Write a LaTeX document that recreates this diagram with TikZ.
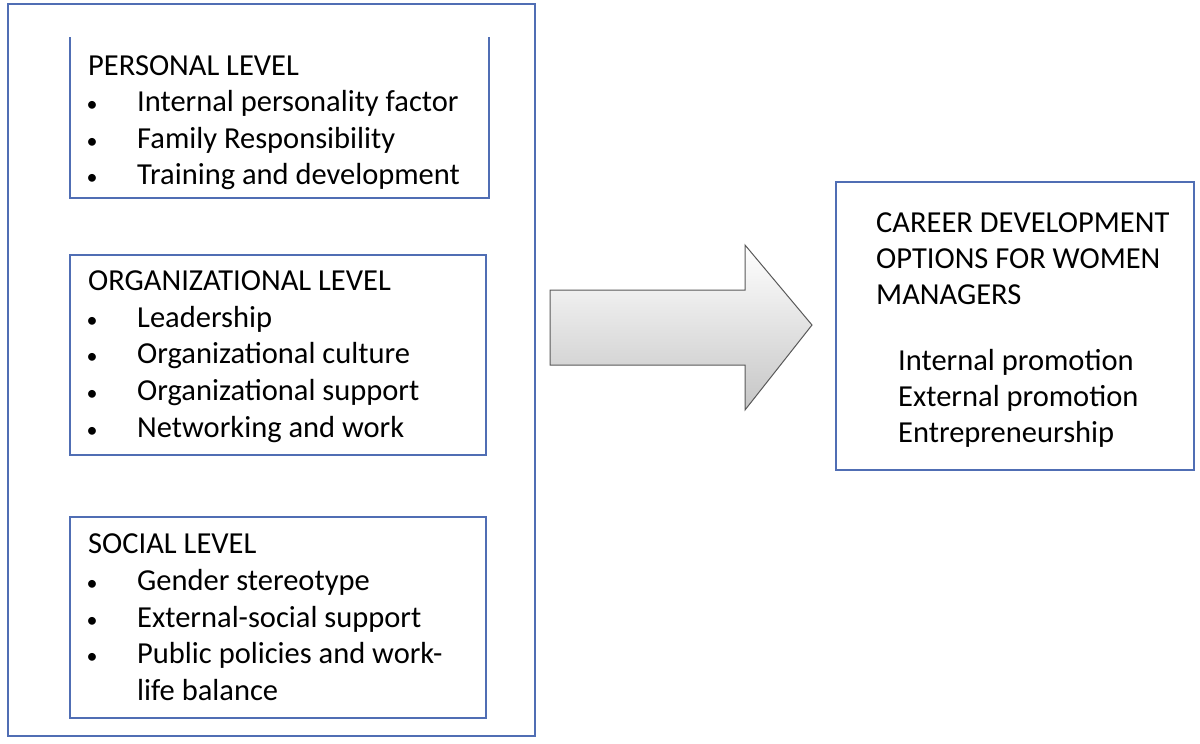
\documentclass[tikz,border=0pt]{standalone}
\usepackage{fontspec}
\setmainfont{Carlito}
\begin{document}
\begin{tikzpicture}[x=1pt,y=-1pt,
  txt/.style={anchor=base west, inner sep=0pt, font=\fontsize{30.5}{34}\selectfont},
  bul/.style={anchor=base, inner sep=0pt, font=\fontsize{22}{26}\selectfont}]
\useasboundingbox (0,0) rectangle (1200,744);
\definecolor{bc}{RGB}{80,110,180}
\draw[draw=bc,line width=1.2pt] (8,4) rectangle (535,736);
\draw[draw=bc,line width=1.2pt] (70,37) -- (70,198) -- (489,198) -- (489,37);
\draw[draw=bc,line width=1.2pt] (70,255) rectangle (486,455);
\draw[draw=bc,line width=1.2pt] (70,517) rectangle (486,718);
\draw[draw=bc,line width=1.2pt] (836,182) rectangle (1194,470);
\draw[gray!70!black, line width=1pt, top color=white, bottom color=gray!45]
  (550,290) -- (745,290) -- (745,245) -- (812,325) -- (745,410) -- (745,365) -- (550,365) -- cycle;
\node[txt] (pt) at (88,75) {PERSONAL LEVEL};
\foreach \y/\s [count=\i] in {111/Internal personality factor,148/Family Responsibility,184/Training and development}{
  \node[bul] (pb\i) at (92,\y) {•}; \node[txt] (p\i) at (137,\y) {\s};}
\node[txt] (ot) at (88,290) {ORGANIZATIONAL LEVEL};
\foreach \y/\s [count=\i] in {327/Leadership,363/Organizational culture,400/Organizational support,437/Networking and work}{
  \node[bul] (ob\i) at (92,\y) {•}; \node[txt] (o\i) at (137,\y) {\s};}
\node[txt] (st) at (88,553) {SOCIAL LEVEL};
\foreach \y/\s [count=\i] in {590/Gender stereotype,627/External-social support,663/Public policies and work-}{
  \node[bul] (sb\i) at (92,\y) {•}; \node[txt] (s\i) at (137,\y) {\s};}
\node[txt] (s4) at (137,700) {life balance};
\node[txt] (r1) at (876,232) {CAREER DEVELOPMENT};
\node[txt] (r2) at (876,268) {OPTIONS FOR WOMEN};
\node[txt] (r3) at (876,304) {MANAGERS};
\node[txt] (r4) at (898,370) {Internal promotion};
\node[txt] (r5) at (898,406) {External promotion};
\node[txt] (r6) at (898,442) {Entrepreneurship};
\end{tikzpicture}
\end{document}
